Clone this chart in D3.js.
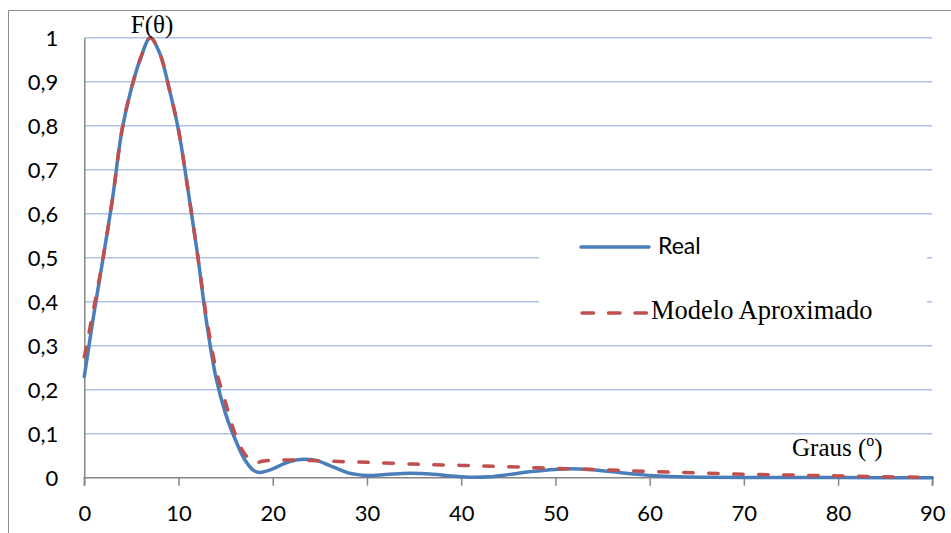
<!DOCTYPE html>
<html>
<head>
<meta charset="utf-8">
<script src="https://cdn.jsdelivr.net/npm/d3@7"></script>
<style>
  html, body { margin: 0; padding: 0; background: #fff; }
  svg { display: block; }
</style>
</head>
<body>
<svg id="chart" width="951" height="533"></svg>
<script>
// ---- data ----
const realX = [0, 1, 2, 3, 4, 5, 6, 7, 8, 9, 10, 11, 12, 13, 14, 15, 16, 17, 18, 18.6, 20, 21, 22, 23.3, 24.5, 26, 27, 28, 29, 30, 32, 34.5, 37, 39, 41, 43, 45, 47, 49, 51, 53, 55, 57, 59, 61, 63, 66, 70, 75, 80, 85, 90];
const realY = [0.23, 0.37, 0.50, 0.635, 0.79, 0.885, 0.955, 1.0, 0.965, 0.885, 0.79, 0.655, 0.51, 0.35, 0.225, 0.145, 0.088, 0.042, 0.016, 0.012, 0.02, 0.03, 0.038, 0.042, 0.04, 0.028, 0.019, 0.011, 0.007, 0.005, 0.007, 0.01, 0.008, 0.004, 0.001, 0.002, 0.007, 0.013, 0.017, 0.02, 0.019, 0.016, 0.011, 0.007, 0.004, 0.002, 0.001, 0.0005, 0.0003, 0.0002, 0.0001, 0.0];
const modelX = [0, 1, 2, 3, 4, 5, 6, 7, 8, 9, 10, 11, 12, 13, 14, 15, 16, 17, 18, 19, 20, 22, 24, 26, 28, 30, 35, 40, 45, 50, 55, 60, 65, 70, 75, 80, 85, 90];
const modelY = [0.275, 0.385, 0.50, 0.635, 0.79, 0.885, 0.955, 1.0, 0.965, 0.885, 0.79, 0.655, 0.51, 0.36, 0.245, 0.17, 0.1, 0.055, 0.034, 0.038, 0.04, 0.04, 0.039, 0.038, 0.036, 0.035, 0.031, 0.028, 0.025, 0.021, 0.018, 0.014, 0.011, 0.008, 0.006, 0.004, 0.002, 0.001];
const xTicks = [0, 10, 20, 30, 40, 50, 60, 70, 80, 90];
const yTicks = [0, 0.1, 0.2, 0.3, 0.4, 0.5, 0.6, 0.7, 0.8, 0.9, 1];
const yTickLabels = ["0", "0,1", "0,2", "0,3", "0,4", "0,5", "0,6", "0,7", "0,8", "0,9", "1"];
const seriesNames = ["Real", "Modelo Aproximado"];
const seriesColors = ["#4a7ebb", "#c0504d"];

// ---- chart ----
const svg = d3.select("#chart");
const x = d3.scaleLinear().domain([0, 90]).range([84.3, 932.3]);
const y = d3.scaleLinear().domain([0, 1]).range([477.7, 37.7]);
const tickFont = "Lato, 'Open Sans', sans-serif";
const serif = "'Liberation Serif', 'Times New Roman', serif";

// outer frame (cropped: only top and left edges visible)
svg.append("path")
  .attr("d", "M8.5,533 L8.5,10.5 L951,10.5")
  .attr("fill", "none").attr("stroke", "#8c8c8c").attr("stroke-width", 1);

// gridlines
svg.append("g").selectAll("line")
  .data(yTicks.filter(v => v > 0))
  .join("line")
  .attr("x1", x(0)).attr("x2", x(90))
  .attr("y1", d => y(d)).attr("y2", d => y(d))
  .attr("stroke", "#aec3e7").attr("stroke-width", 1.6);

// y axis
const yAxis = d3.axisLeft(y).tickValues(yTicks)
  .tickFormat((d, i) => yTickLabels[i]).tickSize(0).tickPadding(26);
const gy = svg.append("g").attr("transform", `translate(${x(0)},0)`).call(yAxis);
gy.select(".domain").attr("stroke", "#868686").attr("stroke-width", 1.5);
gy.selectAll("text").attr("font-family", tickFont).attr("font-size", 22)
  .attr("fill", "#000").attr("dy", "0.36em");

// x axis
const xAxis = d3.axisBottom(x).tickValues(xTicks).tickSize(8).tickPadding(20)
  .tickFormat(d3.format("d"));
const gx = svg.append("g").attr("transform", `translate(0,${y(0)})`).call(xAxis);
gx.select(".domain").attr("stroke", "#868686").attr("stroke-width", 1.5)
  .attr("d", `M${x(0)},8V0H${x(90)}V8`);
gx.selectAll(".tick line").attr("stroke", "#868686").attr("stroke-width", 1.5);
gx.selectAll("text").attr("font-family", tickFont).attr("font-size", 22)
  .attr("fill", "#000").attr("dy", "0.68em");

// legend background (covers gridlines)
svg.append("rect").attr("x", 539).attr("y", 215).attr("width", 388).attr("height", 130)
  .attr("fill", "#fff");

// lines
const realData = realX.map((v, i) => [v, realY[i]]);
const modelData = modelX.map((v, i) => [v, modelY[i]]);
const line = d3.line().x(d => x(d[0])).y(d => y(d[1])).curve(d3.curveCatmullRom.alpha(0.5));

svg.append("path").datum(realData).attr("d", line)
  .attr("fill", "none").attr("stroke", seriesColors[0]).attr("stroke-width", 3.5)
  .attr("stroke-linejoin", "round").attr("stroke-linecap", "round");
svg.append("path").datum(modelData).attr("d", line)
  .attr("fill", "none").attr("stroke", seriesColors[1]).attr("stroke-width", 3.5)
  .attr("stroke-dasharray", "9.5,15.5").attr("stroke-linecap", "round");

// axis titles
svg.append("text").attr("x", 152).attr("y", 33).attr("text-anchor", "middle")
  .attr("font-family", serif).attr("font-size", 25).attr("fill", "#000").text("F(θ)");
const gt = svg.append("text").attr("x", 792).attr("y", 456)
  .attr("font-family", serif).attr("font-size", 25).attr("fill", "#000");
gt.append("tspan").text("Graus (");
gt.append("tspan").attr("font-size", 16).attr("dy", -10).text("o");
gt.append("tspan").attr("dy", 10).text(")");

// legend
svg.append("line").attr("x1", 581).attr("x2", 649).attr("y1", 247).attr("y2", 247)
  .attr("stroke", seriesColors[0]).attr("stroke-width", 3.5).attr("stroke-linecap", "round");
svg.append("text").attr("x", 658).attr("y", 254).attr("font-family", tickFont)
  .attr("font-size", 23).attr("fill", "#000").text(seriesNames[0]);
svg.append("line").attr("x1", 582).attr("x2", 648).attr("y1", 313).attr("y2", 313)
  .attr("stroke", seriesColors[1]).attr("stroke-width", 3.5).attr("stroke-linecap", "round")
  .attr("stroke-dasharray", "11.5,15");
svg.append("text").attr("x", 651).attr("y", 319).attr("font-family", serif)
  .attr("font-size", 26.5).attr("fill", "#000").text(seriesNames[1]);
</script>
</body>
</html>
